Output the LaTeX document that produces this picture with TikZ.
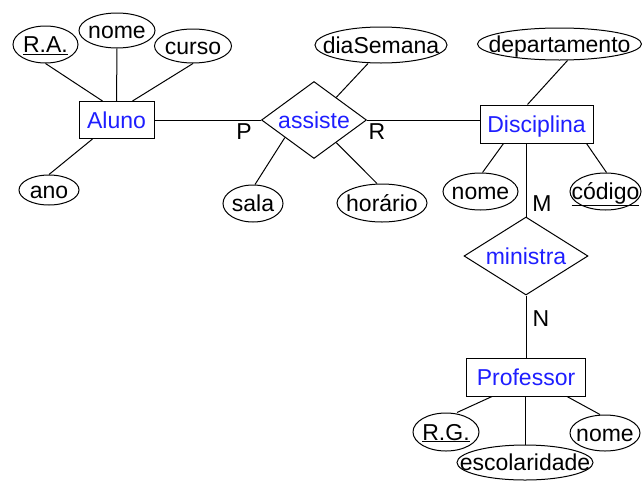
\documentclass[tikz,border=0pt]{standalone}
\usepackage{fontspec}
\setmainfont{Liberation Sans}
\usetikzlibrary{shapes.geometric,calc}
\definecolor{erblue}{RGB}{30,30,255}
\begin{document}
\begin{tikzpicture}[x=1pt,y=-1pt,
  line width=1pt,
  font=\fontsize{23}{27}\selectfont,
  txt/.style={text height=17pt,text depth=1pt,inner sep=0pt},
  every label/.style={txt},
  entity/.style={rectangle,draw,inner sep=0pt,txt,text=erblue},
  rel/.style={diamond,draw,inner sep=0pt,label={[text=erblue]center:#1}},
  attr/.style={ellipse,draw,inner sep=0pt,label={center:#1}},
  card/.style={txt}]
\useasboundingbox (0,0) rectangle (642,485);

% entities
\node[entity,minimum width=75,minimum height=37] (aluno) at (116.5,120) {Aluno};
\node[entity,minimum width=113,minimum height=38] (disc) at (536.5,124) {Disciplina};
\node[entity,minimum width=119,minimum height=38] (prof) at (526,377) {Professor};

% relationships
\node[rel=assiste,minimum width=105,minimum height=77] (assiste) at (314,120) {};
\node[rel=ministra,minimum width=124,minimum height=78] (ministra) at (526,256) {};

% attributes of Aluno
\node[attr={\underline{R.A.}},minimum width=65,minimum height=37] (ra) at (45.5,44.5) {};
\node[attr=nome,minimum width=76,minimum height=35] (anome) at (117,30.5) {};
\node[attr=curso,minimum width=77,minimum height=34] (curso) at (193,46) {};
\node[attr=ano,minimum width=60,minimum height=30] (ano) at (49,190) {};

% attributes of assiste
\node[attr=diaSemana,minimum width=132,minimum height=36] (dia) at (381,45) {};
\node[attr=sala,minimum width=60,minimum height=37] (sala) at (253,203.5) {};
\node[attr=horário,minimum width=90,minimum height=38] (hora) at (382,203) {};

% attributes of Disciplina
\node[attr=departamento,minimum width=164,minimum height=32] (dep) at (559.5,44) {};
\node[attr=nome,minimum width=75,minimum height=37] (dnome) at (480.5,191.5) {};
\node[attr={\underline{código}},minimum width=71,minimum height=37] (cod) at (605.5,191.5) {};

% attributes of Professor
\node[attr={\underline{R.G.}},minimum width=66,minimum height=38] (rg) at (446,432) {};
\node[attr=nome,minimum width=70,minimum height=36] (pnome) at (605,433) {};
\node[attr=escolaridade,minimum width=136,minimum height=35] (esc) at (525,462.5) {};

% cardinalities
\node[card] (p) at (244,131) {P};
\node[card] (r) at (377,131) {R};
\node[card] (m) at (542,203) {M};
\node[card] (n) at (541,318) {N};

% relationship lines
\draw (aluno.east) -- (assiste.west);
\draw (assiste.east) -- (assiste.east -| disc.west);
\draw (ministra.north |- disc.south) -- (ministra.north);
\draw (ministra.south) -- (ministra.south |- prof.north);

% attribute lines
\draw (ra.south) -- ([xshift=-14]aluno.north);
\draw (anome.south) -- (aluno.north);
\draw (curso.south) -- ([xshift=16]aluno.north);
\draw (ano.north) -- ([xshift=-24]aluno.south);
\draw ([xshift=-13]dia.south) -- ($(assiste.north)!0.42!(assiste.east)$);
\draw ([xshift=2]sala.north) -- ($(assiste.west)!0.45!(assiste.south)$);
\draw ([xshift=-5]hora.north) -- ($(assiste.south)!0.42!(assiste.east)$);
\draw ([xshift=8]dep.south) -- ([xshift=-9]disc.north);
\draw ([xshift=2]dnome.north) -- ([xshift=-33]disc.south);
\draw ([xshift=1]cod.north) -- ([xshift=50]disc.south);
\draw ([xshift=11]rg.north) -- ([xshift=-34]prof.south);
\draw ([xshift=-5]pnome.north) -- ([xshift=41]prof.south);
\draw (esc.north) -- (esc.north |- prof.south);
\end{tikzpicture}
\end{document}
